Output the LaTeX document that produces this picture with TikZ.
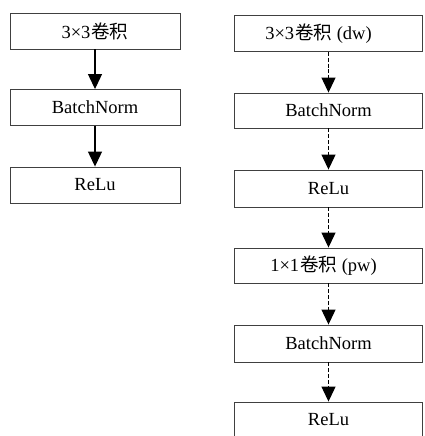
\documentclass[tikz,border=0pt]{standalone}
\usepackage{fontspec}
\setmainfont{Liberation Serif}
\newfontfamily\cjk{Noto Sans CJK SC}
\usetikzlibrary{arrows.meta}
\tikzset{
  blk/.style={draw=black!75, line width=0.9pt, minimum width=#1, minimum height=36pt, inner sep=0pt, font=\fontsize{18.5}{21}\selectfont},
  blk/.default=170pt,
  solidarr/.style={line width=1.2pt, -{Triangle[width=14pt,length=15pt]}},
  dasharr/.style={line width=1.2pt, dash pattern=on 4pt off 1.8pt, -{Triangle[width=14pt,length=15pt]}}
}
\begin{document}
\begin{tikzpicture}[x=1pt,y=-1pt]
\useasboundingbox (0,0) rectangle (424,436);
% left column
\node[blk] (l1) at (95,31) {3×3\kern1pt{\cjk 卷积}};
\node[blk] (l2) at (95,107.5) {BatchNorm};
\node[blk] (l3) at (95,185) {ReLu};
\draw[solidarr] (l1) -- (l2);
\draw[solidarr] (l2) -- (l3);
% right column
\node[blk=188pt] (r1) at (328.5,33.5) {3×3\kern1pt{\cjk 卷积} (dw)\hspace*{20pt}};
\node[blk=188pt, minimum height=35pt] (r2) at (328.5,110.5) {BatchNorm};
\node[blk=188pt, minimum height=37pt] (r3) at (328.5,188.5) {ReLu};
\node[blk=188pt, minimum height=35pt] (r4) at (328.5,265.5) {1×1\kern1pt{\cjk 卷积} (pw)\hspace*{10pt}};
\node[blk=188pt, minimum height=37pt] (r5) at (328.5,343.5) {BatchNorm};
\node[blk=188pt] (r6) at (328.5,420) {ReLu};
\draw[dasharr] (r1) -- (r2);
\draw[dasharr] (r2) -- (r3);
\draw[dasharr] (r3) -- (r4);
\draw[dasharr] (r4) -- (r5);
\draw[dasharr] (r5) -- (r6);
\end{tikzpicture}
\end{document}
